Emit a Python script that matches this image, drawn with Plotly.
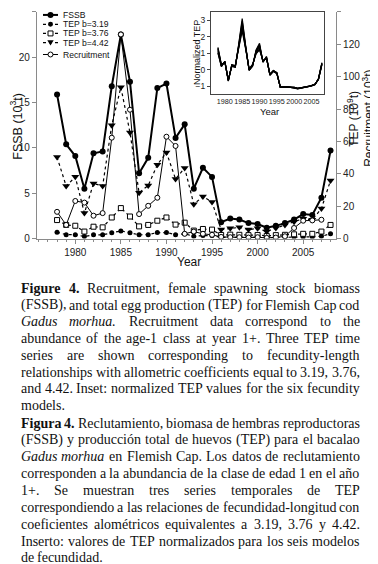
import plotly.graph_objects as go

W, H = 378, 564

# ---------------- data ----------------
years = list(range(1978, 2009))
fssb = [15.9, 10.4, 9.1, 5.5, 9.4, 9.6, 16.8, 22.5, 17.3, 7.2, 8.9, 16.6, 17.1, 11.1, 12.6,
        5.5, 7.8, 6.8, 1.8, 2.2, 2.1, 1.7, 1.6, 1.2, 1.4, 1.7, 2.1, 2.7, 2.6, 4.5, 9.7]
tep_b319 = [3.9, 2.4, 2.4, 1.2, 2.3, 2.3, 3.5, 4.7, 3.5, 2.3, 2.4, 3.7, 3.7, 2.4, 2.9,
            1.4, 1.8, 1.8, 0.7, 0.8, 0.8, 0.7, 0.7, 0.5, 0.7, 0.8, 0.9, 1.0, 1.0, 1.4, 2.9]
tep_b376 = [11.4, 8.4, 7.9, 4.3, 7.3, 6.9, 13.0, 18.8, 13.6, 7.5, 8.4, 11.0, 13.0, 8.6, 9.8,
            4.9, 5.9, 5.5, 2.2, 2.4, 2.3, 2.1, 2.2, 1.6, 2.1, 2.3, 2.6, 2.9, 2.9, 4.3, 8.4]
tep_b442 = [50.3, 32.4, 38.1, 15.7, 34.0, 32.4, 70.0, 93.5, 65.5, 28.3, 32.8, 45.6, 53.2, 36.8, 43.6,
            21.2, 25.9, 22.6, 5.5, 6.3, 6.9, 5.5, 6.3, 4.3, 6.5, 8.4, 10.4, 12.2, 11.6, 18.5, 35.9]
recruitment = [16.5, 8.4, 23.2, 22.2, 14.1, 15.7, 62.3, 126.1, 79.6, 15.1, 20.2, 25.2, 62.9, 57.2, 2.9,
               4.3, 2.9, 2.3, 1.0, 0.8, 0.8, 0.6, 0.8, 0.4, 0.6, 1.4, 6.5, 11.0, 11.2, 11.6, None]

# inset: normalized TEP for six fecundity models
norm_tep_1 = [1.35, 0.30, 0.45, -0.60, 0.20, 0.15, 1.55, 3.10, 1.45, -0.05, 0.20, 1.20, 1.60, 0.45, 0.80, -0.35,
              -0.10, -0.25, -1.05, -1.03, -1.04, -1.06, -1.07, -1.13, -1.10, -1.06, -1.02, -0.96, -0.88, -0.60, 0.30]
norm_tep_2 = [1.30, 0.28, 0.45, -0.62, 0.22, 0.15, 1.50, 2.95, 1.40, -0.05, 0.22, 1.15, 1.50, 0.45, 0.78, -0.33,
              -0.10, -0.23, -1.05, -1.04, -1.04, -1.06, -1.08, -1.14, -1.10, -1.06, -1.02, -0.96, -0.88, -0.60, 0.32]
norm_tep_3 = [1.25, 0.25, 0.47, -0.65, 0.25, 0.18, 1.45, 2.80, 1.35, -0.02, 0.25, 1.10, 1.45, 0.48, 0.75, -0.32,
              -0.08, -0.22, -1.06, -1.04, -1.05, -1.07, -1.08, -1.14, -1.11, -1.07, -1.03, -0.97, -0.89, -0.58, 0.35]
norm_tep_4 = [1.15, 0.22, 0.48, -0.67, 0.27, 0.20, 1.40, 2.65, 1.35, 0.00, 0.27, 1.05, 1.35, 0.50, 0.72, -0.30,
              -0.07, -0.20, -1.07, -1.05, -1.05, -1.07, -1.09, -1.15, -1.11, -1.07, -1.03, -0.98, -0.90, -0.57, 0.38]
norm_tep_5 = [1.05, 0.20, 0.50, -0.68, 0.30, 0.22, 1.35, 2.50, 1.30, 0.02, 0.30, 1.00, 1.25, 0.52, 0.70, -0.28,
              -0.05, -0.20, -1.07, -1.06, -1.06, -1.08, -1.09, -1.15, -1.12, -1.08, -1.04, -0.98, -0.90, -0.56, 0.40]
norm_tep_6 = [1.00, 0.18, 0.50, -0.70, 0.30, 0.25, 1.30, 2.35, 1.25, 0.05, 0.32, 0.95, 1.20, 0.55, 0.68, -0.27,
              -0.05, -0.18, -1.08, -1.06, -1.06, -1.08, -1.10, -1.16, -1.12, -1.08, -1.04, -0.99, -0.91, -0.55, 0.42]

x_tick_vals = [1980, 1985, 1990, 1995, 2000, 2005]
left_tick_vals = [0, 5, 10, 15, 20, 25]
right_tick_vals = [0, 20, 40, 60, 80, 100, 120, 140]
inset_y_ticks = [-1, 0, 1, 2, 3]

legend_labels = ["FSSB", "TEP b=3.19", "TEP b=3.76", "TEP b=4.42", "Recruitment"]

caption_en = [
    "*Figure *4. Recruitment, female spawning stock biomass",
    "(FSSB), and total egg production (TEP) for Flemish Cap cod",
    "_Gadus _morhua. Recruitment data correspond to the",
    "abundance of the age-1 class at year 1+. Three TEP time",
    "series are shown corresponding to fecundity-length",
    "relationships with allometric coefficients equal to 3.19, 3.76,",
    "and 4.42. Inset: normalized TEP values for the six fecundity",
    "models.",
]
caption_es = [
    "*Figura *4. Reclutamiento, biomasa de hembras reproductoras",
    "(FSSB) y producción total de huevos (TEP) para el bacalao",
    "_Gadus _morhua en Flemish Cap. Los datos de reclutamiento",
    "corresponden a la abundancia de la clase de edad 1 en el año",
    "1+. Se muestran tres series temporales de TEP",
    "correspondiendo a las relaciones de fecundidad-longitud con",
    "coeficientes alométricos equivalentes a 3.19, 3.76 y 4.42.",
    "Inserto: valores de TEP normalizados para los seis modelos",
    "de fecundidad.",
]

# ---------------- helpers ----------------
def px(x):
    return x / W


def py(y):
    return 1 - y / H


SANS = "Liberation Sans, Arial, sans-serif"
SERIF = "Liberation Serif, Times New Roman, serif"
AX = "#8a8a8a"

fig = go.Figure()

# main series
fig.add_trace(go.Scatter(x=years, y=fssb, mode="lines+markers", xaxis="x", yaxis="y",
                         line=dict(color="black", width=2),
                         marker=dict(symbol="circle", size=6, color="black")))
fig.add_trace(go.Scatter(x=years, y=tep_b319, mode="lines+markers", xaxis="x", yaxis="y2",
                         line=dict(color="black", width=1.2, dash="dot"),
                         marker=dict(symbol="circle", size=5, color="black")))
fig.add_trace(go.Scatter(x=years, y=tep_b376, mode="lines+markers", xaxis="x", yaxis="y2",
                         line=dict(color="black", width=1.2, dash="dot"),
                         marker=dict(symbol="square", size=5, color="white",
                                     line=dict(color="black", width=1))))
fig.add_trace(go.Scatter(x=years, y=tep_b442, mode="lines+markers", xaxis="x", yaxis="y2",
                         line=dict(color="black", width=1.2, dash="dot"),
                         marker=dict(symbol="triangle-down", size=7, color="black")))
fig.add_trace(go.Scatter(x=years, y=recruitment, mode="lines+markers", xaxis="x", yaxis="y2",
                         line=dict(color="black", width=1),
                         marker=dict(symbol="circle", size=5, color="white",
                                     line=dict(color="black", width=1))))

for s in [norm_tep_1, norm_tep_2, norm_tep_3, norm_tep_4, norm_tep_5, norm_tep_6]:
    fig.add_trace(go.Scatter(x=years, y=s, mode="lines", xaxis="x3", yaxis="y3",
                             line=dict(color="black", width=1.2)))

tickfont = dict(family=SANS, size=10, color="#222")
insetfont = dict(family=SANS, size=7.2, color="#222")

fig.update_layout(
    width=W, height=H, margin=dict(l=0, r=0, t=0, b=0),
    paper_bgcolor="white", plot_bgcolor="rgba(0,0,0,0)", showlegend=False,
    xaxis=dict(domain=[px(29), px(328)], range=[1975.8, 2008.6], anchor="y",
               showline=True, linecolor=AX, linewidth=1.2, ticks="outside", ticklen=4,
               tickcolor=AX, tickmode="array", tickvals=x_tick_vals, tickfont=tickfont,
               tickangle=0,
               minor=dict(ticks="outside", ticklen=2, tick0=1978, dtick=1, tickcolor=AX),
               showgrid=False, zeroline=False),
    yaxis=dict(domain=[py(233), py(4)], range=[0, 25], anchor="x",
               showline=True, linecolor=AX, linewidth=1.2, ticks="outside", ticklen=4,
               tickcolor=AX, tickmode="array", tickvals=left_tick_vals, tickfont=tickfont,
               showgrid=False, zeroline=False),
    yaxis2=dict(domain=[py(233), py(4)], range=[0, 140], anchor="x", overlaying="y", side="right",
                showline=True, linecolor=AX, linewidth=1.2, ticks="outside", ticklen=4,
                tickcolor=AX, tickmode="array", tickvals=right_tick_vals, tickfont=tickfont,
                showgrid=False, zeroline=False),
    xaxis3=dict(domain=[px(203), px(316)], range=[1976, 2008.6], anchor="y3",
                showline=True, mirror=True, linecolor="#444", linewidth=1, ticks="",
                tickmode="array", tickvals=x_tick_vals,
                tickfont=insetfont, tickangle=0,
                showgrid=False, zeroline=False),
    yaxis3=dict(domain=[py(87.3), py(4)], range=[-1.5, 3.5], anchor="x3",
                showline=True, mirror=True, linecolor="#444", linewidth=1, ticks="outside",
                ticklen=3, tickcolor="#444", tickmode="array", tickvals=inset_y_ticks,
                tickfont=dict(family=SANS, size=8.5, color="#222"),
                showgrid=False, zeroline=False),
)

ann = []
shapes = []


def add_text(x, y, text, size, family=SANS, angle=0, xanchor="center", color="#111"):
    ann.append(dict(x=px(x), y=py(y), xref="paper", yref="paper", text=text, showarrow=False,
                    textangle=angle, xanchor=xanchor, yanchor="middle", borderpad=0, borderwidth=0,
                    font=dict(family=family, size=size, color=color)))


# axis titles
add_text(8, 120, "FSSB (10<sup>3</sup>t)", 12.5, angle=-90)
add_text(345, 112, "TEP (10<sup>9</sup>t)", 12, angle=-90)
add_text(360, 112, "Recruitment (10<sup>3</sup>t)", 12, angle=-90)
add_text(181, 257, "Year", 12)
add_text(189, 45.5, "Normalized TEP", 9, angle=-90)
add_text(261, 105, "Year", 9.5)

# custom legend
leg_y = [7, 16.5, 25.7, 35, 47]
lx0, lx1, mx, tx = 35, 50, 42.5, 55
styles = [("solid", 2), ("dot", 1.2), ("dot", 1.2), ("dot", 1.2), ("solid", 1)]
for i, (lab, yy) in enumerate(zip(legend_labels, leg_y)):
    dash, wdt = styles[i]
    shapes.append(dict(type="line", xref="paper", yref="paper", x0=px(lx0), x1=px(lx1),
                       y0=py(yy), y1=py(yy), line=dict(color="black", width=wdt, dash=dash)))
    if i in (0, 1):
        r = 3 if i == 0 else 2.5
        shapes.append(dict(type="circle", xref="paper", yref="paper", x0=px(mx - r), x1=px(mx + r),
                           y0=py(yy + r), y1=py(yy - r), fillcolor="black", line=dict(width=0)))
    elif i == 2:
        r = 2.5
        shapes.append(dict(type="rect", xref="paper", yref="paper", x0=px(mx - r), x1=px(mx + r),
                           y0=py(yy + r), y1=py(yy - r), fillcolor="white",
                           line=dict(color="black", width=1)))
    elif i == 3:
        path = (f"M {px(mx - 3.2)},{py(yy - 2.5)} L {px(mx + 3.2)},{py(yy - 2.5)} "
                f"L {px(mx)},{py(yy + 3)} Z")
        shapes.append(dict(type="path", xref="paper", yref="paper", path=path,
                           fillcolor="black", line=dict(width=0)))
    else:
        r = 2.5
        shapes.append(dict(type="circle", xref="paper", yref="paper", x0=px(mx - r), x1=px(mx + r),
                           y0=py(yy + r), y1=py(yy - r), fillcolor="white",
                           line=dict(color="black", width=1)))
    add_text(tx, yy, lab, 8.6, xanchor="left")

# ---------------- caption (justified) ----------------
roman = {' ': 250, '(': 333, ')': 333, ',': 250, '-': 333, '.': 250, ':': 278, '+': 564,
         'ó': 500, 'é': 444, 'ñ': 500, 'á': 444, 'í': 278, 'ú': 500}
for d in "0123456789":
    roman[d] = 500
roman.update({'a': 444, 'b': 500, 'c': 444, 'd': 500, 'e': 444, 'f': 333, 'g': 500, 'h': 500,
              'i': 278, 'j': 278, 'k': 500, 'l': 278, 'm': 778, 'n': 500, 'o': 500, 'p': 500,
              'q': 500, 'r': 333, 's': 389, 't': 278, 'u': 500, 'v': 500, 'w': 722, 'x': 500,
              'y': 500, 'z': 444})
roman.update({'A': 722, 'B': 667, 'C': 667, 'D': 722, 'E': 611, 'F': 556, 'G': 722, 'H': 722,
              'I': 333, 'J': 389, 'K': 722, 'L': 611, 'M': 889, 'N': 722, 'O': 722, 'P': 556,
              'Q': 722, 'R': 667, 'S': 556, 'T': 611, 'U': 722, 'V': 722, 'W': 944, 'X': 722,
              'Y': 722, 'Z': 611})
bold = dict(roman)
bold.update({'F': 611, 'i': 278, 'g': 500, 'u': 556, 'r': 444, 'e': 444, 'a': 500})
italic = dict(roman)
italic.update({'G': 722, 'a': 500, 'd': 500, 'u': 500, 's': 389, 'm': 722, 'o': 500,
               'r': 389, 'h': 500})

CAP_SIZE = 14
CAP_L, CAP_R = 12.7, 351.7


def word_info(tok):
    if tok.startswith("*"):
        w = tok[1:]
        return f"<b>{w}</b>", sum(bold.get(c, 500) for c in w) * CAP_SIZE / 1000
    if tok.startswith("_"):
        w = tok[1:]
        return f"<i>{w}</i>", sum(italic.get(c, 500) for c in w) * CAP_SIZE / 1000
    return tok, sum(roman.get(c, 500) for c in tok) * CAP_SIZE / 1000


def add_caption(lines, y0, dy):
    for i, line in enumerate(lines):
        toks = [t for t in line.split(" ") if t]
        info = [word_info(t) for t in toks]
        total = sum(w for _, w in info)
        last = i == len(lines) - 1
        gap = 0.25 * CAP_SIZE if (last or len(info) < 2) else (CAP_R - CAP_L - total) / (len(info) - 1)
        x = CAP_L
        for txt, w in info:
            add_text(x, y0 + i * dy, txt, CAP_SIZE, family=SERIF, xanchor="left", color="#111")
            x += w + gap


add_caption(caption_en, 283.5, 16.9)
add_caption(caption_es, 419.5, 17.05)

fig.update_layout(annotations=ann, shapes=shapes)
fig.write_html("out.html")
